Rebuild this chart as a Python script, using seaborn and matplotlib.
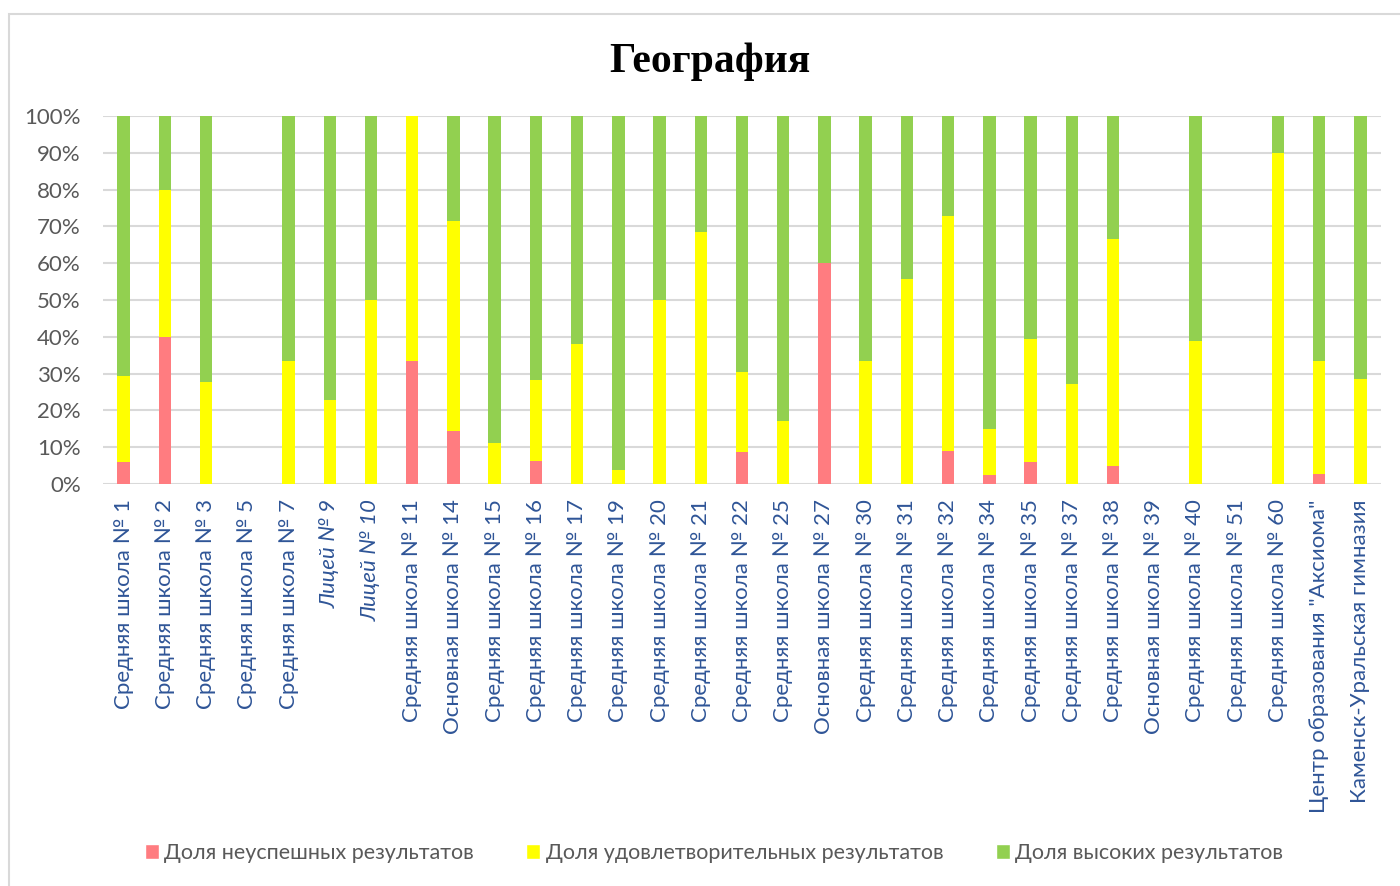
import matplotlib
matplotlib.use("Agg")
import matplotlib.pyplot as plt
from matplotlib.patches import Rectangle, Patch
import seaborn as sns
import pandas as pd

# данные (доли в %)
schools = [
    "Средняя школа № 1", "Средняя школа № 2", "Средняя школа № 3", "Средняя школа № 5",
    "Средняя школа № 7", "Лицей № 9", "Лицей № 10", "Средняя школа № 11",
    "Основная школа № 14", "Средняя школа № 15", "Средняя школа № 16", "Средняя школа № 17",
    "Средняя школа № 19", "Средняя школа № 20", "Средняя школа № 21", "Средняя школа № 22",
    "Средняя школа № 25", "Основная школа № 27", "Средняя школа № 30", "Средняя школа № 31",
    "Средняя школа № 32", "Средняя школа № 34", "Средняя школа № 35", "Средняя школа № 37",
    "Средняя школа № 38", "Основная школа № 39", "Средняя школа № 40", "Средняя школа № 51",
    "Средняя школа № 60", "Центр образования \"Аксиома\"", "Каменск-Уральская гимназия",
]
neusp = [5.9, 40, 0, 0, 0, 0, 0, 33.3, 14.3, 0, 6.3, 0, 0, 0, 0, 8.7,
         0, 60, 0, 0, 9.1, 2.5, 6.1, 0, 4.8, 0, 0, 0, 0, 2.8, 0]
udovl = [23.5, 40, 27.8, 0, 33.3, 22.7, 50, 66.7, 57.1, 11.1, 21.9, 38.1, 3.7, 50, 68.4, 21.7,
         17.1, 0, 33.3, 55.6, 63.6, 12.5, 33.3, 27.3, 61.9, 0, 38.9, 0, 90, 30.5, 28.6]
vysok = [70.6, 20, 72.2, 0, 66.7, 77.3, 50, 0, 28.6, 88.9, 71.8, 61.9, 96.3, 50, 31.6, 69.6,
         82.9, 40, 66.7, 44.4, 27.3, 85, 60.6, 72.7, 33.3, 0, 61.1, 0, 10, 66.7, 71.4]
series_names = ["Доля неуспешных результатов", "Доля удовлетворительных результатов",
                "Доля высоких результатов"]

red = "#FF7C80"
yellow = "#FFFF00"
green = "#92D050"

df = pd.DataFrame({"Школа": schools, "red": neusp, "yellow": udovl, "green": vysok})
df["c_yellow"] = df["red"] + df["yellow"]
df["c_green"] = df["c_yellow"] + df["green"]

sns.set_style("white")
plt.rcParams["font.family"] = ["Lato", "DejaVu Sans"]

fig = plt.figure(figsize=(14, 8.86), dpi=100)
ax = fig.add_axes([103 / 1400, 1 - 484 / 886, (1381 - 103) / 1400, 368 / 886])

# столбцы с накоплением: рисуем суммы сверху вниз
for col, c in [("c_green", green), ("c_yellow", yellow), ("red", red)]:
    sns.barplot(data=df, x="Школа", y=col, color=c, width=0.3, saturation=1,
                errorbar=None, linewidth=0, ax=ax)

ax.set_xlim(-0.5, len(schools) - 0.5)
ax.set_ylim(0, 100)
ax.set_yticks(range(0, 101, 10))
ax.set_yticklabels([f"{v}%" for v in range(0, 101, 10)])
ax.yaxis.grid(True, color="#D9D9D9", lw=1.5)
ax.set_axisbelow(True)
for s in ax.spines.values():
    s.set_visible(False)
ax.set_xlabel("")
ax.set_ylabel("")
ax.tick_params(axis="y", length=0, pad=16, labelsize=16, labelcolor="#595959")
ax.tick_params(axis="x", length=0, pad=11, labelsize=16, labelcolor="#2F5597", rotation=90)
for lbl in ax.get_xticklabels():
    if lbl.get_text().startswith("Лицей"):
        lbl.set_style("italic")

fig.text(710 / 1400, 1 - 62 / 886, "География", ha="center", va="center", color="black",
         fontsize=30, weight="bold", family=["Liberation Serif", "DejaVu Serif"])

handles = [Patch(facecolor=c, label=n) for c, n in zip([red, yellow, green], series_names)]
fig.legend(handles=handles, loc="center", bbox_to_anchor=(714 / 1400, 1 - 853 / 886),
           ncol=3, frameon=False, fontsize=15.5, labelcolor="#595959",
           handlelength=0.65, handleheight=0.75, handletextpad=0.25, columnspacing=2.45)

# рамка диаграммы
fig.patches.append(Rectangle((9 / 1400, -0.1), 1.2, 1 - 14 / 886 + 0.1, transform=fig.transFigure,
                             fill=False, edgecolor="#D9D9D9", lw=1.5))

fig.savefig("out.png", dpi=100)
